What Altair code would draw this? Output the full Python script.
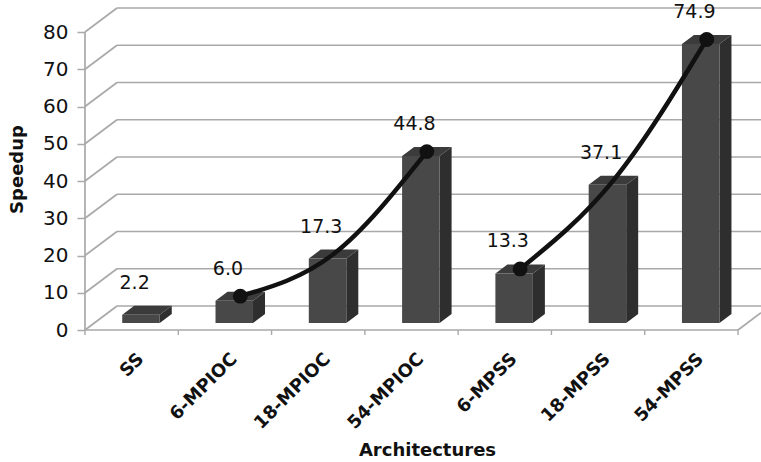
import altair as alt
import pandas as pd

# ---------------- data ----------------
categories = ["SS", "6-MPIOC", "18-MPIOC", "54-MPIOC", "6-MPSS", "18-MPSS", "54-MPSS"]
speedup = [2.2, 6.0, 17.3, 44.8, 13.3, 37.1, 74.9]
trend_groups = {
    "MPIOC": ["6-MPIOC", "18-MPIOC", "54-MPIOC"],
    "MPSS": ["6-MPSS", "18-MPSS", "54-MPSS"],
}
y_ticks = [0, 10, 20, 30, 40, 50, 60, 70, 80]

# ---------------- geometry / style ----------------
W, H = 676, 322
PX_CAT = 93.29          # pixels per category
PX_VAL = 3.725          # pixels per unit of speedup
WALL_DX, WALL_DY = 32, 24        # depth of the 3-D box (px)
BAR_FRONT_DY = 7                 # bar front plane behind floor edge (px)
BAR_DEPTH_DY = 9                 # bar depth (px)
BAR_W = 37.5                     # bar width (px)

def ux(px):
    return px / PX_CAT

def uy(px):
    return px / PX_VAL

n = len(categories)
x_min, x_max = -0.5, -0.5 + ux(W)
y_min, y_max = 0.0, uy(H)
wdx, wdy = ux(WALL_DX), uy(WALL_DY)
fdx, fdy = ux(BAR_FRONT_DY * 4 / 3), uy(BAR_FRONT_DY)
ddx, ddy = ux(BAR_DEPTH_DY * 4 / 3), uy(BAR_DEPTH_DY)
bw = ux(BAR_W)

xs = alt.Scale(domain=[x_min, x_max], nice=False, zero=False)
ys = alt.Scale(domain=[y_min, y_max], nice=False, zero=False)

GRID = "#a9a9a9"
FONT = "DejaVu Sans"

# ---------------- derived tables ----------------
idx = {c: i for i, c in enumerate(categories)}
bars = pd.DataFrame({"name": categories, "i": range(n), "v": speedup})
bars["xl"] = bars["i"] + fdx - bw / 2
bars["xr"] = bars["i"] + fdx + bw / 2
bars["y0"] = fdy
bars["y1"] = fdy + bars["v"]

front = bars.copy()

top_rows, side_rows = [], []
for r in bars.to_dict("records"):
    top_rows.append({"name": r["name"], "y": r["y1"], "x": r["xl"], "x2": r["xr"]})
    top_rows.append({"name": r["name"], "y": r["y1"] + ddy, "x": r["xl"] + ddx, "x2": r["xr"] + ddx})
    side_rows.append({"name": r["name"], "x": r["xr"], "y": r["y0"], "y2": r["y1"]})
    side_rows.append({"name": r["name"], "x": r["xr"] + ddx, "y": r["y0"] + ddy, "y2": r["y1"] + ddy})
top = pd.DataFrame(top_rows)
side = pd.DataFrame(side_rows)

back_grid = pd.DataFrame({"x": x_min + wdx, "x2": x_max, "y": [t + wdy for t in y_ticks]})
left_diag = pd.DataFrame({"x": x_min, "x2": x_min + wdx, "y": y_ticks, "y2": [t + wdy for t in y_ticks]})
x_end = n - 0.5
floor_edges = pd.DataFrame({
    "x": [x_min, x_end, x_min],
    "x2": [x_end, x_max, x_min],
    "y": [0.0, 0.0, 0.0],
    "y2": [0.0, (x_max - x_end) / wdx * wdy, float(y_ticks[-1])],
})
floor_ticks = pd.DataFrame({"x": [k - 0.5 for k in range(n + 1)], "y": 0.0, "y2": -uy(5)})

line_rows, pt_rows = [], []
for g, cats in trend_groups.items():
    for j, c in enumerate(cats):
        row = {"g": g, "x": idx[c] + fdx + ddx / 2, "y": speedup[idx[c]] + fdy + ddy / 2, "o": j}
        line_rows.append(row)
        if j in (0, len(cats) - 1):
            pt_rows.append(row)
trend = pd.DataFrame(line_rows)
pts = pd.DataFrame(pt_rows)

labels = pd.DataFrame({"x": list(range(n)), "v": speedup,
                       "t": [f"{v:.1f}" for v in speedup]})

# ---------------- layers ----------------
def X(field, **kw):
    return alt.X(field, type="quantitative", scale=xs, axis=None, **kw)

def Y(field, **kw):
    return alt.Y(field, type="quantitative", scale=ys, axis=None, **kw)

label_expr = "[" + ",".join(f"'{c}'" for c in categories) + "][datum.value]"

axes_layer = alt.Chart(labels).mark_point(opacity=0).encode(
    x=alt.X("x:Q", scale=xs, axis=alt.Axis(
        orient="bottom",
        values=list(range(n)), labelExpr=label_expr, ticks=False, domain=False, grid=False,
        labelAngle=-45, labelAlign="right", labelBaseline="middle", labelPadding=26,
        labelOffset=9, labelFont=FONT, labelFontWeight="bold", labelFontSize=18,
        labelColor="#111", labelFlush=False, labelOverlap=False,
        title="Architectures", titleFont=FONT, titleFontWeight="bold", titleFontSize=18,
        titleColor="#111", titleX=342, titleY=125, titleAlign="center",
        titleBaseline="alphabetic")),
    y=alt.Y("v:Q", scale=ys, axis=alt.Axis(
        orient="left",
        values=y_ticks, tickSize=8, tickColor=GRID, tickWidth=1.5, domain=False, grid=False,
        labelPadding=9, labelFont=FONT, labelFontSize=20, labelColor="#111",
        title="Speedup", titleFont=FONT, titleFontWeight="bold", titleFontSize=18,
        titleColor="#111", titleX=-68, titleY=161, titleAlign="center",
        titleBaseline="middle", titleAngle=-90)),
)

grid_back = alt.Chart(back_grid).mark_rule(color=GRID, strokeWidth=1.7).encode(
    x=X("x"), x2="x2", y=Y("y"))
grid_left = alt.Chart(left_diag).mark_rule(color=GRID, strokeWidth=1.7).encode(
    x=X("x"), x2="x2", y=Y("y"), y2="y2")
floor = alt.Chart(floor_edges).mark_rule(color=GRID, strokeWidth=1.7).encode(
    x=X("x"), x2="x2", y=Y("y"), y2="y2")
fticks = alt.Chart(floor_ticks).mark_rule(color=GRID, strokeWidth=1.4).encode(
    x=X("x"), y=Y("y"), y2="y2")

side_face = alt.Chart(side).mark_area(orient="vertical", color="#2e2e2e").encode(
    x=X("x"), y=Y("y"), y2="y2", detail="name:N")
top_face = alt.Chart(top).mark_area(orient="horizontal", color="#3b3b3b").encode(
    y=Y("y"), x=X("x"), x2="x2", detail="name:N")
front_face = alt.Chart(front).mark_rect(color="#484848").encode(
    x=X("xl"), x2="xr", y=Y("y0"), y2="y1")

trend_line = alt.Chart(trend).mark_line(color="#111", strokeWidth=4.5, interpolate="natural",
                                        strokeCap="round").encode(
    x=X("x"), y=Y("y"), detail="g:N", order="o:Q")
trend_pts = alt.Chart(pts).mark_circle(color="#111", size=220, opacity=1).encode(
    x=X("x"), y=Y("y"))

value_text = alt.Chart(labels).mark_text(font=FONT, fontSize=19, color="#111", dx=3, dy=-39,
                                         baseline="middle", align="center").encode(
    x=X("x"), y=Y("v"), text="t:N")

chart = alt.layer(
    axes_layer, grid_back, grid_left, floor, fticks,
    side_face, top_face, front_face, trend_line, trend_pts, value_text,
).resolve_axis(x="independent", y="independent").properties(
    width=W, height=H,
    padding={"left": 85, "top": 8, "right": 0, "bottom": 132},
    autosize=alt.AutoSizeParams(type="none"),
    background="white",
).configure_view(stroke=None)

chart.save("out.html", embed_options={"renderer": "svg", "actions": False})
